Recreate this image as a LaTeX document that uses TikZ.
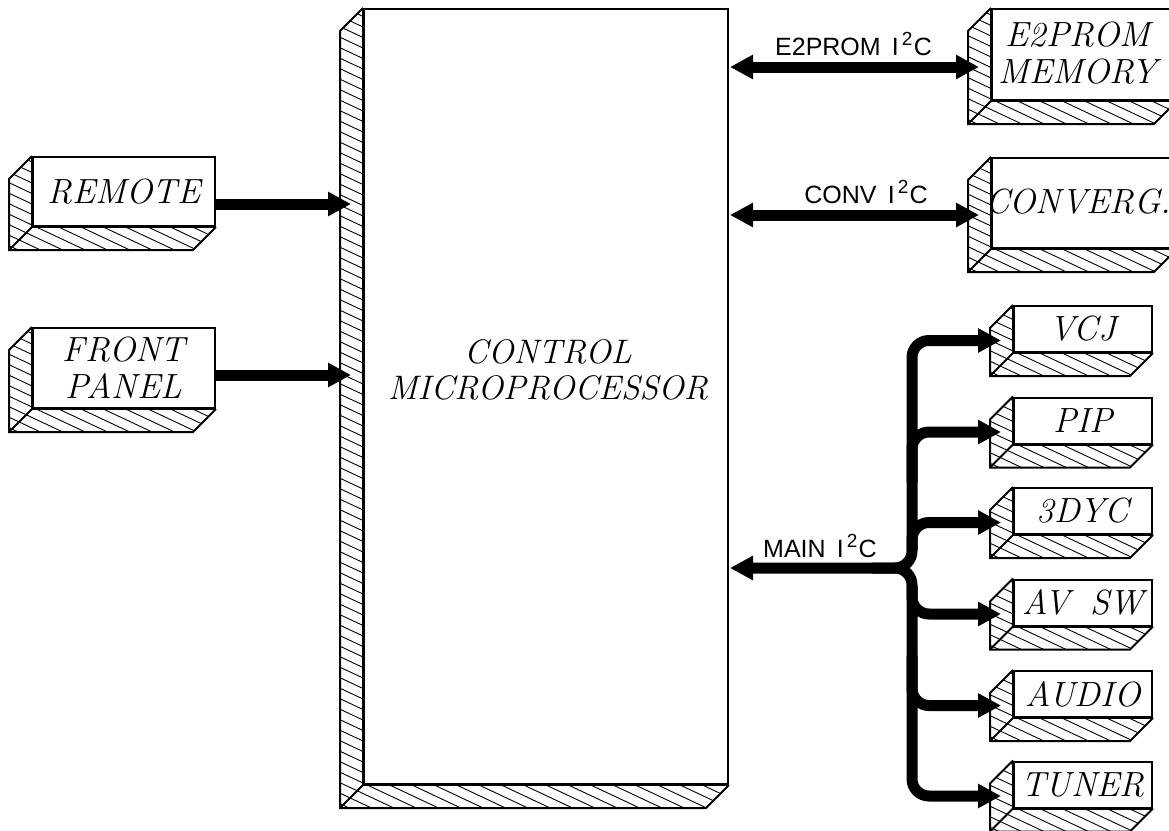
\documentclass[tikz,border=0pt]{standalone}
\usepackage{fontspec}
\setmainfont{Latin Modern Roman}
\newfontfamily\labfont{Liberation Sans}
\usetikzlibrary{arrows.meta,calc}

\tikzset{
  front/.style={draw, line width=2pt, fill=white, inner sep=0pt, align=center,
    font=\fontsize{35}{37}\selectfont\itshape},
  boxtext/.style={inner sep=0pt, align=center, font=\fontsize{34}{36}\selectfont\itshape},
  sidetext/.style={inner sep=0pt, align=center, font=\fontsize{35}{37}\selectfont\itshape},
  outline/.style={line width=2pt, line join=miter},
  hatchline/.style={line width=0.9pt},
  bus/.style={line width=11pt},
  tip/.style={-{Triangle[length=23pt,width=23pt]}},
  dtip/.style={{Triangle[length=23pt,width=23pt]}-{Triangle[length=23pt,width=23pt]}},
  buslabel/.style={font=\labfont\fontsize{25}{25}\selectfont, anchor=base, inner sep=0pt},
}

\newcommand\isqc{I\hspace{0.12em}\raisebox{10pt}{\fontsize{19}{19}\selectfont 2}\hspace{0.05em}C}

% hatched side and bottom faces of a box (#1 name, #2 width, #3 height)
\newcommand\prism[3]{%
  \pgfmathtruncatemacro\hatchtop{#3+0.47*#2+30}%
  \begin{scope}
    \clip (#1.north west) -- (#1.south west) -- (#1.south east)
      -- ($(#1.south east)+(-23pt,-23pt)$) -- ($(#1.south west)+(-23pt,-23pt)$)
      -- ($(#1.north west)+(-23pt,-23pt)$) -- cycle;
    \foreach \c in {-40,-29.5,...,\hatchtop}{
      \draw[hatchline] ($(#1.south west)+(-30pt,{\c pt+14.1pt})$)
        -- ++({#2pt+40pt},{-0.47*(#2pt+40pt)});
    }
  \end{scope}
  \draw[outline] (#1.north west) -- ($(#1.north west)+(-23pt,-23pt)$)
    -- ($(#1.south west)+(-23pt,-23pt)$) -- ($(#1.south east)+(-23pt,-23pt)$)
    -- (#1.south east);
  \draw[outline] (#1.south west) -- ($(#1.south west)+(-23pt,-23pt)$);
  \draw[outline] (#1.north west) -- (#1.south west) -- (#1.south east);
}

\begin{document}
\begin{tikzpicture}[x=1pt,y=-1pt]
\useasboundingbox (0,0) rectangle (1169,830);
\clip (0,0) rectangle (1169,830);

% main block
\node[front, minimum width=364pt, minimum height=775pt] (main) at (546,396.5) {};
\prism{main}{364}{775}
\node[boxtext] (maintext) at (548,370) {CONTROL\\MICROPROCESSOR};

% left boxes
\node[front, minimum width=182pt, minimum height=69pt] (remote) at (124,191.5) {REMOTE};
\prism{remote}{182}{69}
\node[front, minimum width=182pt, minimum height=80pt] (panel) at (124,368) {FRONT\\PANEL};
\prism{panel}{182}{80}

% upper right boxes
\node[front, minimum width=184pt, minimum height=91pt] (e2prom) at (1084,54.5) {};
\prism{e2prom}{184}{91}
\node[sidetext] (e2text) at (1078,53.5) {E2PROM\\MEMORY};
\node[front, minimum width=184pt, minimum height=90pt] (converg) at (1084,203) {};
\prism{converg}{184}{90}
\node[sidetext] (convtext) at (1078,202) {CONVERG.};

% I2C devices
\foreach \n/\t/\y in {vcj/VCJ/329, pip/PIP/420.5, dyc/3DYC/511, avsw/AV\hspace{0.6em}SW/602.5, audio/AUDIO/694, tuner/TUNER/784.5}{
  \node[front, minimum width=138pt, minimum height=46pt] (\n) at (1083,\y) {\t};
  \prism{\n}{138}{46}
}

% bus labels
\node[buslabel] (lbe2) at (853.5,55) {E2PROM\hspace{0.45em}\isqc};
\node[buslabel] (lbconv) at (866,203) {CONV\hspace{0.45em}\isqc};
\node[buslabel] (lbmain) at (820,557) {MAIN\hspace{0.45em}\isqc};

% inputs
\draw[bus,tip] ($(remote.east)+(0,-12.5pt)$) -- ($(remote.east -| main.west)+(-12pt,-12.5pt)$);
\draw[bus,tip] ($(panel.east)+(0,-7pt)$) -- ($(panel.east -| main.west)+(-12pt,-7pt)$);

% two-way buses
\draw[bus,dtip] ($(e2prom.west -| main.east)+(1pt,-12.5pt)$) -- ($(e2prom.west)+(-12pt,-12.5pt)$);
\draw[bus,dtip] ($(converg.west -| main.east)+(1pt,-12pt)$) -- ($(converg.west)+(-12pt,-12pt)$);

% main I2C bus tree
\coordinate (junction) at (912,568);
\foreach \n in {vcj,pip,dyc,avsw,audio,tuner}{
  \coordinate (\n tip) at ($(\n.west)+(-12pt,-11.5pt)$);
}
\draw[bus,dtip,rounded corners=17pt] ($(junction -| main.east)+(1pt,0)$) -- (junction) -- (junction |- vcjtip) -- (vcjtip);
\draw[bus,tip,rounded corners=17pt] ($(junction)+(-40pt,0)$) -- (junction) -- (junction |- tunertip) -- (tunertip);
\draw[bus,tip,rounded corners=17pt] ($(junction |- piptip)+(0,-50pt)$) -- (junction |- piptip) -- (piptip);
\draw[bus,tip,rounded corners=17pt] ($(junction |- dyctip)+(0,-28pt)$) -- (junction |- dyctip) -- (dyctip);
\draw[bus,tip,rounded corners=17pt] ($(junction |- avswtip)+(0,28pt)$) -- (junction |- avswtip) -- (avswtip);
\draw[bus,tip,rounded corners=17pt] ($(junction |- audiotip)+(0,50pt)$) -- (junction |- audiotip) -- (audiotip);
\end{tikzpicture}
\end{document}
